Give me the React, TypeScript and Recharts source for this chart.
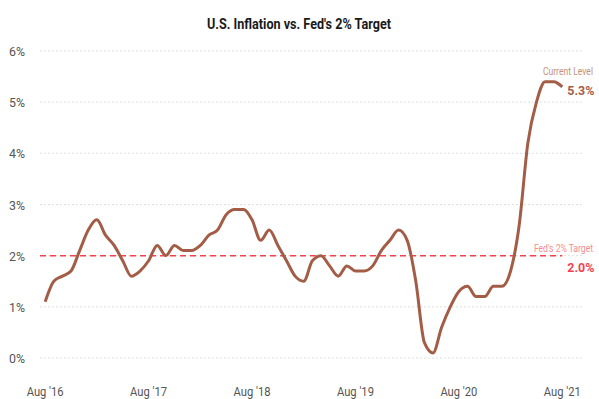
import { LineChart, Line, XAxis, YAxis, CartesianGrid, ReferenceLine, ReferenceDot } from 'recharts'

const TITLE = "U.S. Inflation vs. Fed's 2% Target"
const TARGET = 2
const X_TICKS = [0, 12, 24, 36, 48, 60]
const X_TICK_LABELS = ["Aug '16", "Aug '17", "Aug '18", "Aug '19", "Aug '20", "Aug '21"]
const Y_TICKS = [0, 1, 2, 3, 4, 5, 6]

// CPI YoY %, Aug 2016 .. Aug 2021 (monthly)
const CPI = [
  1.1, 1.5, 1.6, 1.7, 2.1,
  2.5, 2.7, 2.4, 2.2, 1.9, 1.6, 1.7, 1.9, 2.2, 2.0, 2.2, 2.1,
  2.1, 2.2, 2.4, 2.5, 2.8, 2.9, 2.9, 2.7, 2.3, 2.5, 2.2, 1.9,
  1.6, 1.5, 1.9, 2.0, 1.8, 1.6, 1.8, 1.7, 1.7, 1.8, 2.1, 2.3,
  2.5, 2.3, 1.5, 0.3, 0.1, 0.6, 1.0, 1.3, 1.4, 1.2, 1.2, 1.4,
  1.4, 1.7, 2.6, 4.2, 5.0, 5.4, 5.4, 5.3,
]

const data = CPI.map((v, i) => ({ i, cpi: v }))
const last = data[data.length - 1]

const FONT = 'Roboto, "Liberation Sans", sans-serif'
const BROWN = '#a35d47'
const RED = '#f2424f'

const XTick = ({ x, y, payload }: any) => {
  const idx = X_TICKS.indexOf(payload.value)
  const label = X_TICK_LABELS[idx] ?? ''
  return (
    <text x={x} y={y + 30} textAnchor="middle" fontFamily={FONT} fontSize={13} fill="#555" textLength={37} lengthAdjust="spacingAndGlyphs">
      {label}
    </text>
  )
}

const YTick = ({ y, payload }: any) => (
  <text x={25} y={y + 5} textAnchor="end" fontFamily={FONT} fontSize={13} fill="#555" textLength={16} lengthAdjust="spacingAndGlyphs">
    {`${payload.value}%`}
  </text>
)

// narrow text: squeeze horizontally around its right edge
const Narrow = ({ x, y, scale, children, ...rest }: any) => (
  <text transform={`translate(${x},${y}) scale(${scale},1)`} textAnchor="end" {...rest}>
    {children}
  </text>
)

const CurrentLabel = ({ viewBox }: any) => {
  const { x, y } = viewBox
  return (
    <g fontFamily={FONT}>
      <Narrow x={593} y={y - 12} scale={0.78} fontSize={11} fill="#c4907c">Current Level</Narrow>
      <text x={x + 5} y={y + 8} fontSize={13} fontWeight="bold" fill={BROWN} textLength={27} lengthAdjust="spacingAndGlyphs">{`${last.cpi.toFixed(1)}%`}</text>
    </g>
  )
}

const TargetLabel = ({ viewBox }: any) => {
  const { x, y } = viewBox
  return (
    <g fontFamily={FONT}>
      <Narrow x={593} y={y - 4} scale={0.78} fontSize={11} fill="#f58b8f">Fed's 2% Target</Narrow>
      <text x={x + 5} y={y + 16} fontSize={13} fontWeight="bold" fill={RED} textLength={27} lengthAdjust="spacingAndGlyphs">{`${TARGET.toFixed(1)}%`}</text>
    </g>
  )
}

export default function App() {
  return (
    <div style={{ position: 'absolute', left: 0, top: 0, width: 599, height: 399, background: '#fff' }}>
      <svg width={599} height={40} style={{ position: 'absolute', left: 0, top: 0 }}>
        <text x={299} y={29} textAnchor="middle" fontFamily={FONT} fontSize={14} fontWeight="bold" fill="#1a1a1a" textLength={184} lengthAdjust="spacingAndGlyphs">
          {TITLE}
        </text>
      </svg>
      <div style={{ position: 'absolute', left: 0, top: 0 }}>
        <LineChart width={599} height={399} data={data} margin={{ top: 51, right: 16, bottom: 0, left: 0 }}>
          <CartesianGrid vertical={false} stroke="#dedede" strokeDasharray="2 2" />
          <XAxis dataKey="i" type="number" domain={[-0.6, 62.4]} ticks={X_TICKS} tick={<XTick />} tickLine={false} axisLine={false} height={41} interval={0} />
          <YAxis domain={[0, 6]} ticks={Y_TICKS} tick={<YTick />} tickLine={false} axisLine={false} width={40} interval={0} />
          <ReferenceLine segment={[{ x: -0.6, y: TARGET }, { x: last.i, y: TARGET }]} stroke={RED} strokeWidth={1.5} strokeDasharray="6 4" ifOverflow="visible" />
          <Line type="monotone" dataKey="cpi" stroke={BROWN} strokeWidth={3} dot={false} isAnimationActive={false} />
          <ReferenceDot x={last.i} y={last.cpi} r={0} stroke="none" fill="none" label={<CurrentLabel />} />
          <ReferenceDot x={last.i} y={TARGET} r={0} stroke="none" fill="none" label={<TargetLabel />} />
        </LineChart>
      </div>
    </div>
  )
}
